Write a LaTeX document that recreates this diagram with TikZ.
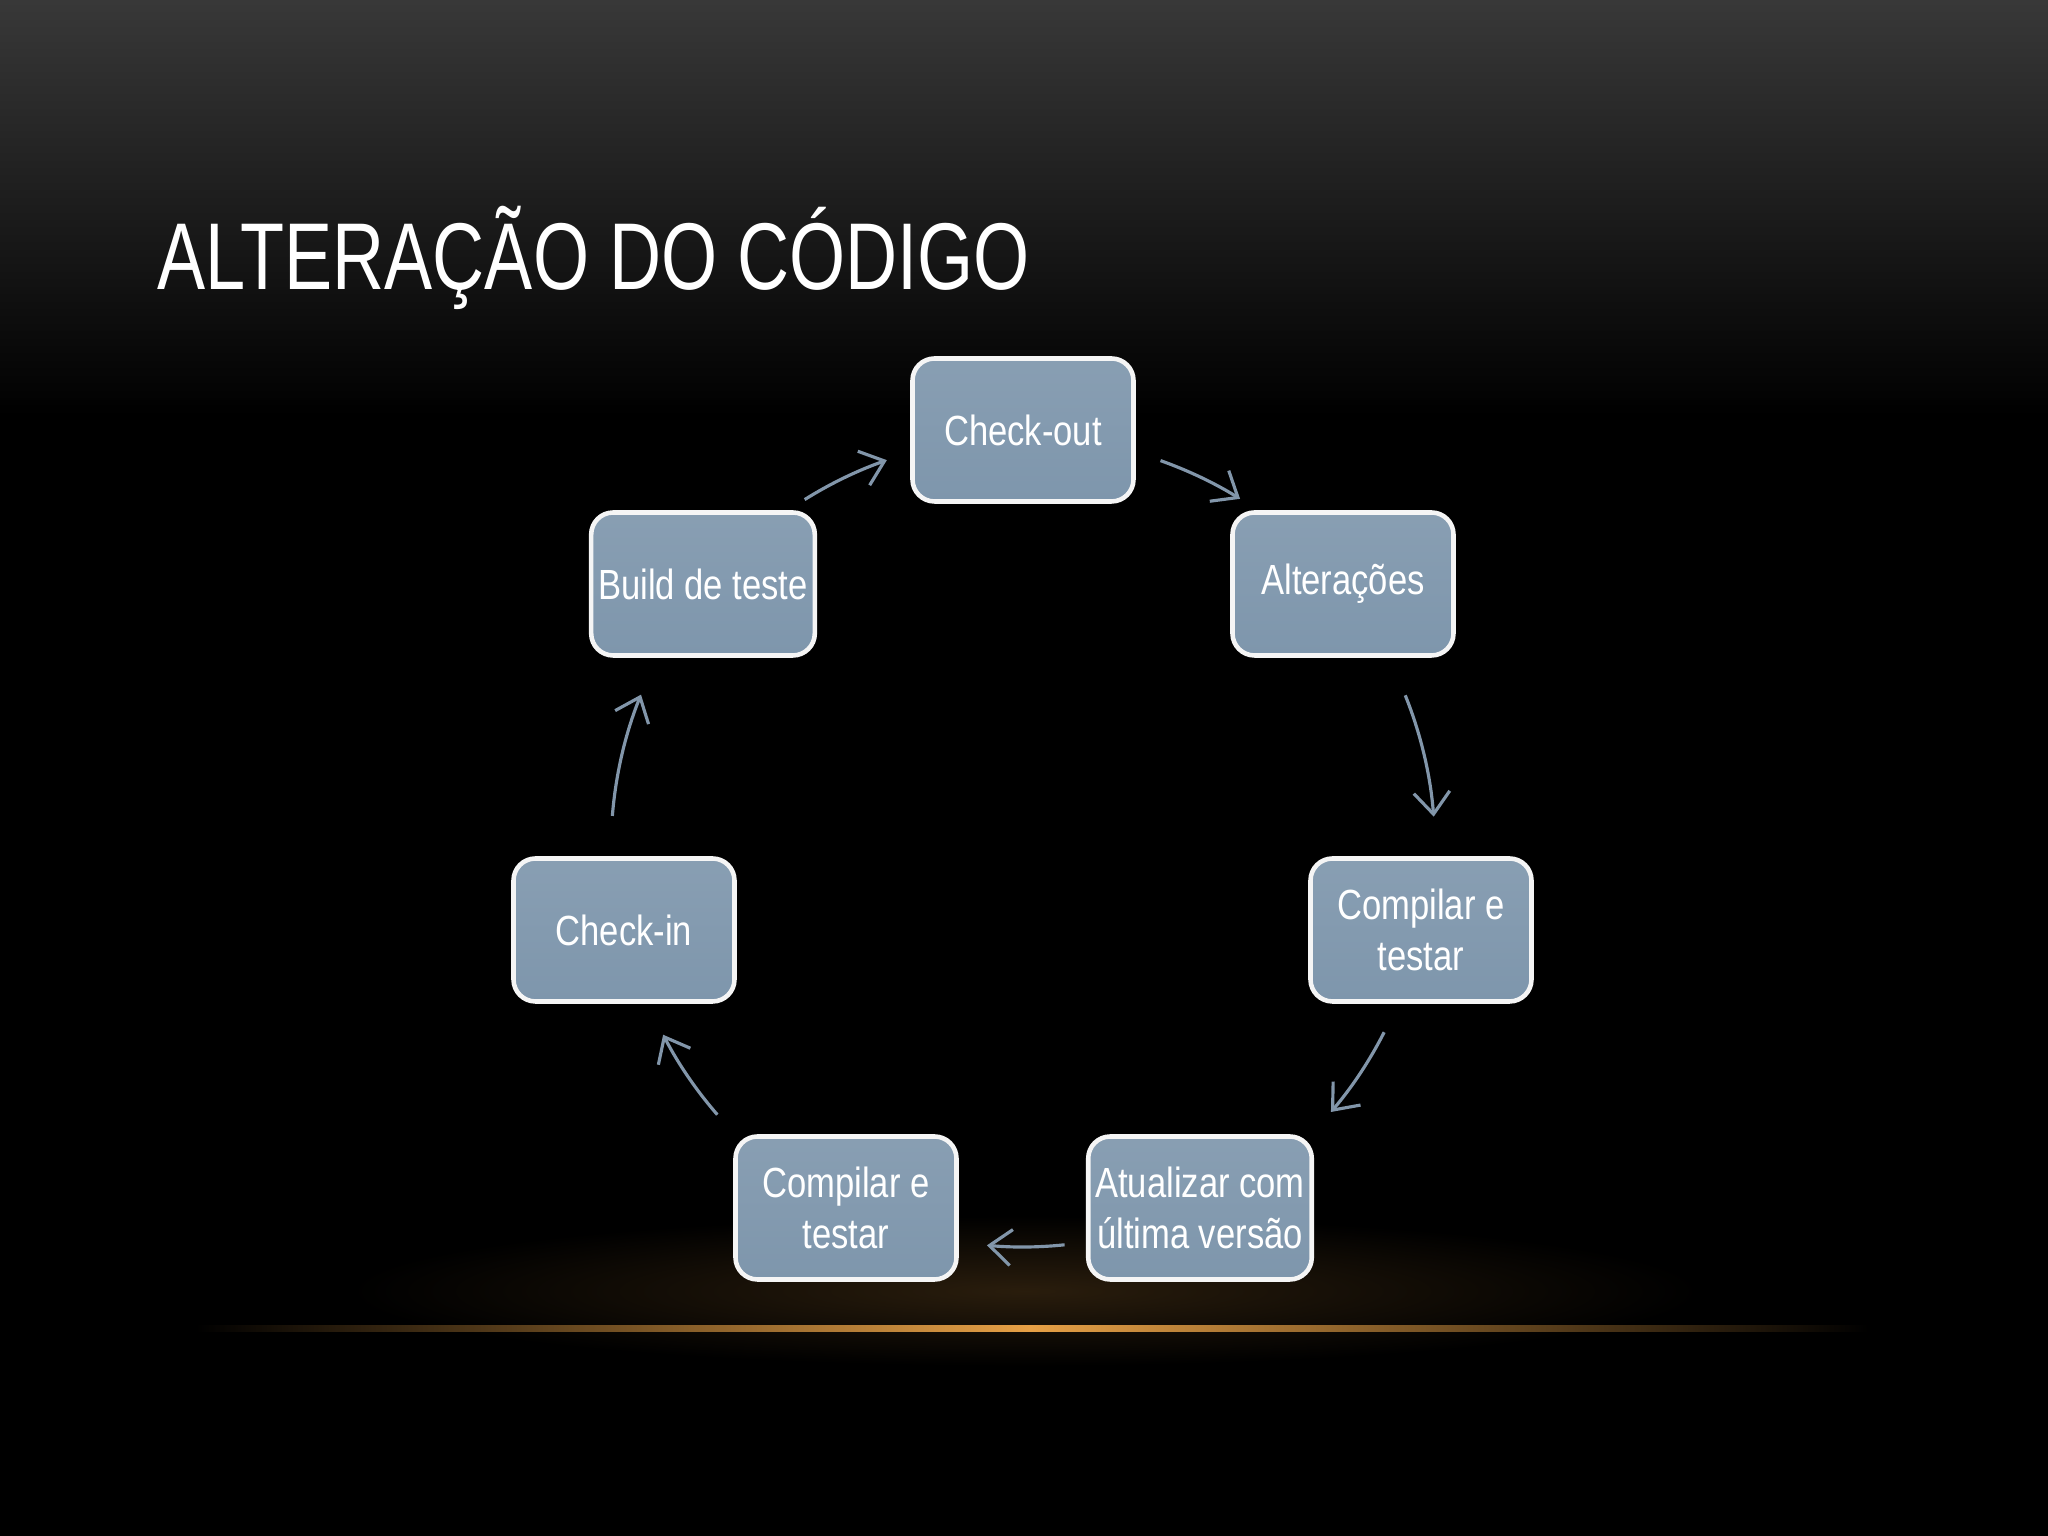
\documentclass[tikz,border=0pt]{standalone}
\usetikzlibrary{arrows.meta}
\usepackage{fontspec}
\setmainfont{Liberation Sans}
\newfontfamily\narrow[FakeStretch=0.82]{Liberation Sans}
\newfontfamily\titlefont[FakeStretch=0.76]{Liberation Sans}
\definecolor{boxfill}{RGB}{126,150,172}
\definecolor{arrowc}{RGB}{130,150,170}
\definecolor{glow}{RGB}{230,160,70}
\begin{document}
\begin{tikzpicture}[x=1cm,y=1cm,
  stepbox/.style={draw=white!92!gray,line width=1.3pt,rounded corners=0.22cm,
    top color=boxfill!92!white,bottom color=boxfill,minimum width=2.21cm,minimum height=1.43cm,
    text=white,font=\narrow\fontsize{12}{14.5}\selectfont,align=center,inner sep=2pt},
  arr/.style={draw=arrowc,line width=0.9pt,-{Straight Barb[length=2.2mm,width=3.6mm]}}]
\useasboundingbox (0,0) rectangle (20.48,15.36);
\fill[black] (0,0) rectangle (20.48,15.36);
\shade[top color=black!78,bottom color=black] (0,15.36) rectangle (20.48,11.2);
% glow
\shade[inner color=glow!18!black,outer color=black] (3.5,1.7) rectangle (17,3.2);
\shade[left color=black,right color=glow] (1.96,2.04) rectangle (10.3,2.10);
\shade[left color=glow,right color=black] (10.3,2.04) rectangle (18.68,2.10);
\node[anchor=base west,text=white,font=\titlefont\fontsize{27}{30}\selectfont,inner sep=0] (title) at (1.57,12.46) {ALTERAÇÃO DO CÓDIGO};
\coordinate (O) at (10.23,6.87);
\node[stepbox] (co) at (10.23,11.06) {Check-out};
\node[stepbox] (al) at (13.43,9.52) {Alterações};
\node[stepbox] (cr) at (14.21,6.06) {Compilar e\\testar};
\node[stepbox] (at) at (12.00,3.28) {Atualizar com\\última versão};
\node[stepbox] (cl) at (8.46,3.28) {Compilar e\\testar};
\node[stepbox] (ci) at (6.24,6.06) {Check-in};
\node[stepbox] (bt) at (7.03,9.52) {Build de teste};
\def\R{4.12}
\foreach \a/\b/\r in {70.5/58.2/4.12, 21.9/4.5/4.12, -26.9/-40.5/4.05, -84/-95.2/3.98, -139/-152.7/4.05, 175.4/158/4.12, 122/109.3/4.12}
  \draw[arr] ([shift={(\a:\r)}]O) arc[start angle=\a,end angle=\b,radius=\r];
\end{tikzpicture}
\end{document}
